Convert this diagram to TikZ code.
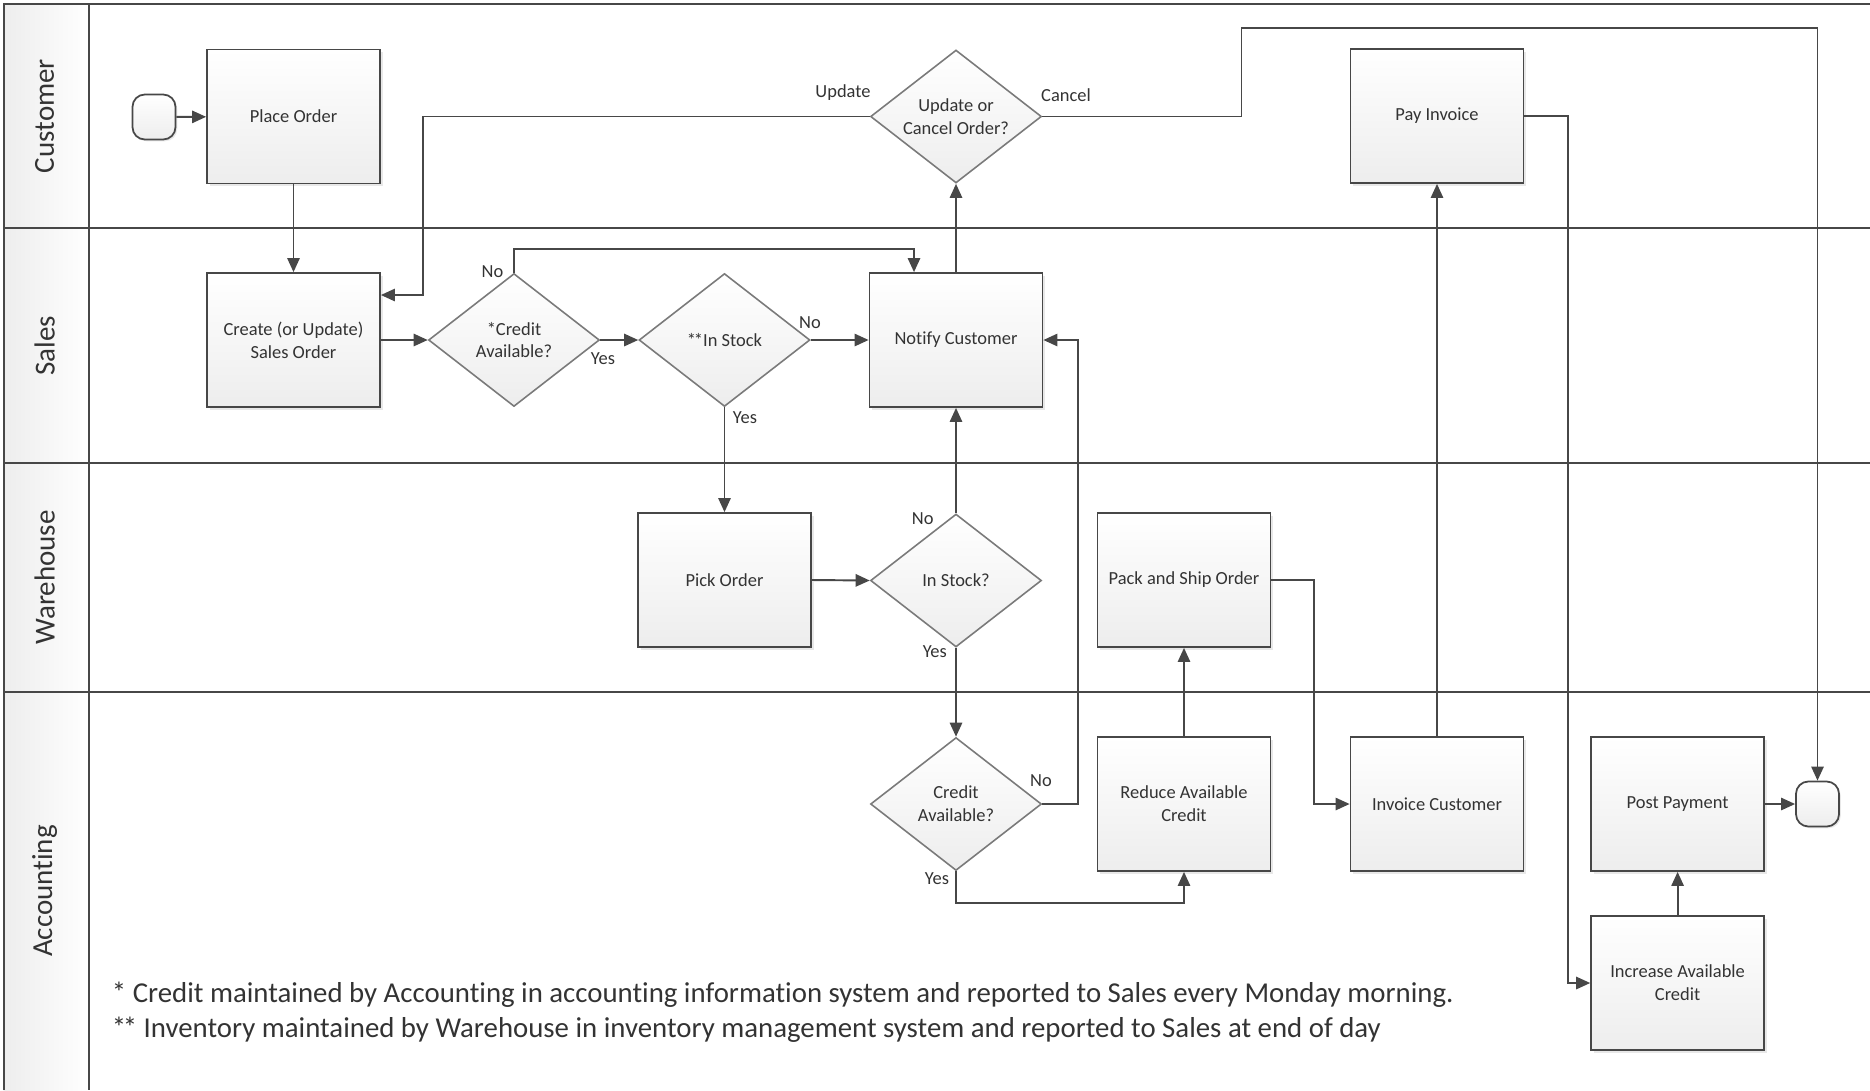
\documentclass[tikz,border=0pt]{standalone}
\usepackage{fontspec}
\setmainfont{Carlito}[Ligatures=NoCommon]
\usetikzlibrary{positioning,shapes.geometric,arrows.meta,shadows}
\definecolor{lngrey}{HTML}{474747}
\definecolor{dcgrey}{HTML}{7A7A7A}
\definecolor{txgrey}{HTML}{333333}
\definecolor{hdgrey}{HTML}{EDEDED}
\newcommand{\dstar}{*\kern-0.12em*}
\tikzset{
  task/.style  ={rectangle, draw=lngrey, line width=1pt, top color=white, bottom color=black!7,
                 text=txgrey, align=center, font=\fontsize{10.5}{13}\selectfont,
                 minimum width=3.46cm, minimum height=2.68cm, inner sep=2pt,
                 drop shadow={shadow xshift=1.5pt, shadow yshift=-1.5pt, opacity=0.18}},
  dec/.style   ={diamond, draw=dcgrey, line width=0.9pt, top color=white, bottom color=black!7,
                 text=txgrey, align=center, font=\fontsize{10.5}{13}\selectfont,
                 minimum width=3.42cm, minimum height=2.66cm, inner sep=-6pt},
  term/.style  ={rectangle, rounded corners=7pt, draw=lngrey, line width=1pt, top color=white,
                 bottom color=black!7, minimum width=0.86cm, minimum height=0.9cm,
                 drop shadow={shadow xshift=1pt, shadow yshift=-1pt, opacity=0.18}},
  fl/.style    ={-{Triangle[length=8pt,width=7pt]}, line width=1.1pt, draw=lngrey},
  lbl/.style   ={font=\fontsize{10.5}{12}\selectfont, text=txgrey, inner sep=1pt},
  lane/.style  ={draw=lngrey, line width=1.2pt},
  lanetxt/.style={rotate=90, font=\fontsize{16.5}{18}\selectfont, text=txgrey},
  note/.style  ={anchor=west, inner sep=0pt, font=\fontsize{16.4}{19}\selectfont, text=txgrey}
}

\begin{document}
\begin{tikzpicture}[x=0.02cm, y=0.02cm]
  \useasboundingbox (0,0) rectangle (1870,-1090);

  % swim lanes
  \shade[left color=hdgrey, right color=white] (3.6,-4) rectangle (89,-1090);
  \draw[lane] (3.6,-1090) -- (3.6,-4) -- (1870,-4);
  \draw[lane] (89,-4) -- (89,-1090);
  \draw[lane] (3.6,-228) -- (1870,-228);
  \draw[lane] (3.6,-463) -- (1870,-463);
  \draw[lane] (3.6,-692) -- (1870,-692);
  \node[lanetxt] (lcust) at (44.6,-116) {Customer};
  \node[lanetxt] (lsale) at (44.6,-345.5) {Sales};
  \node[lanetxt] (lware) at (44.6,-577.5) {Warehouse};
  \node[lanetxt] (lacct) at (44.6,-891) {Accounting};

  % steps
  \node[term] (start) at (154,-117) {};
  \node[task] (place) at (293.5,-116.5) {Place Order};
  \node[task] (create) at (293.5,-340) {Create (or Update)\\Sales Order};
  \node[dec] (credit1) at (514,-340) {*Credit\\Available?};
  \node[dec] (stock1) at (724.5,-340) {\dstar In Stock};
  \node[task] (notify) at (956,-340) {Notify Customer};
  \node[dec] (updcan) at (956,-116.5) {Update or\\Cancel Order?};
  \node[task] (payinv) at (1437,-116) {Pay Invoice};
  \node[task] (pick) at (724.5,-580) {Pick Order};
  \node[dec] (stock2) at (956,-580.5) {In Stock?};
  \node[task] (pack) at (1184,-580) {Pack and Ship Order};
  \node[dec] (credit2) at (956,-804) {Credit\\Available?};
  \node[task] (reduce) at (1184,-804) {Reduce Available\\Credit};
  \node[task] (invoice) at (1437,-804) {Invoice Customer};
  \node[task] (post) at (1677.6,-804) {Post Payment};
  \node[term] (finish) at (1817.5,-804) {};
  \node[task] (increase) at (1677.6,-983) {Increase Available\\Credit};
  \coordinate (cancelup) at (1241.5,-27.7);

  % flows
  \draw[fl] (start) -- (place);
  \draw[fl] (place) -- (create);
  \draw[fl] (create) -- (credit1);
  \draw[fl] (credit1.north) -- ++(0,23.5) -| ([xshift=-0.84cm]notify.north);
  \draw[fl] (credit1.east) -- (stock1.west);
  \draw[fl] (stock1.east) -- (notify.west);
  \draw[fl] (stock1.south) -- (pick.north);
  \draw[fl] (pick.east) -- (stock2.west);
  \draw[fl] (stock2.north) -- (notify.south);
  \draw[fl] (stock2.south) -- (credit2.north);
  \draw[fl] (credit2.east) -- ++(36,0) |- (notify.east);
  \draw[fl] (credit2.south) -- ++(0,-32) -| (reduce.south);
  \draw[fl] (reduce) -- (pack);
  \draw[fl] (pack.east) -- ++(42.7,0) |- (invoice.west);
  \draw[fl] (invoice) -- (payinv);
  \draw[fl] (payinv.east) -- ++(43.5,0) |- (increase.west);
  \draw[fl] (increase) -- (post);
  \draw[fl] (post) -- (finish);
  \draw[fl] (notify) -- (updcan);
  \draw[fl] (updcan.west) -- ++(-447,0) |- ([yshift=0.9cm]create.east);
  \draw[fl] (updcan.east) -| (cancelup) -| (finish.north);

  % branch labels
  \node[lbl] (tupd) at (843,-93) {Update};
  \node[lbl] (tcan) at (1066,-95) {Cancel};
  \node[lbl] (tno1) at (492.5,-272) {No};
  \node[lbl] (tyes1) at (603,-359) {Yes};
  \node[lbl] (tno2) at (810,-323) {No};
  \node[lbl] (tyes2) at (745,-418) {Yes};
  \node[lbl] (tno3) at (922.8,-519) {No};
  \node[lbl] (tyes3) at (934.8,-651.7) {Yes};
  \node[lbl] (tno4) at (1041,-781) {No};
  \node[lbl] (tyes4) at (937,-879) {Yes};

  % footnotes
  \node[note] (fn1) at (111.6,-995) {* Credit maintained by Accounting in accounting information system and reported to Sales every Monday morning.};
  \node[note] (fn2) at (111.6,-1030) {\dstar{} Inventory maintained by Warehouse in inventory management system and reported to Sales at end of day};
\end{tikzpicture}
\end{document}
